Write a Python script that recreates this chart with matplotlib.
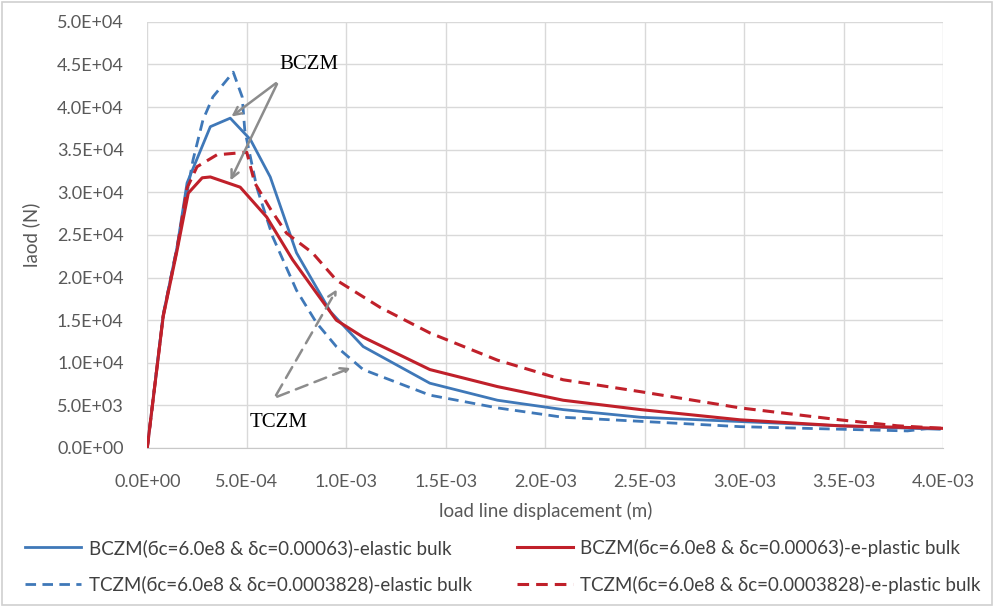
import matplotlib.pyplot as plt
from matplotlib.patches import Rectangle

plt.rcParams["font.family"] = ["Lato", "DejaVu Sans"]

# displacement (m) / load (N)
x_b_el = [0, 8e-5, 1.5e-4, 2.0e-4, 3.17e-4, 4.17e-4, 5.18e-4, 6.18e-4, 7.5e-4, 9.2e-4,
          1.085e-3, 1.42e-3, 1.76e-3, 2.09e-3, 2.48e-3, 2.98e-3, 3.48e-3, 3.98e-3]
y_b_el = [0, 15.6e3, 23.6e3, 31.1e3, 37.7e3, 38.7e3, 36.2e3, 31.8e3, 22.9e3, 16.0e3,
          11.9e3, 7.6e3, 5.6e3, 4.5e3, 3.6e3, 3.1e3, 2.6e3, 2.2e3]

x_b_pl = [0, 8e-5, 1.5e-4, 2.06e-4, 2.76e-4, 3.17e-4, 4.67e-4, 6.0e-4, 7.3e-4, 8.5e-4,
          9.5e-4, 1.085e-3, 1.42e-3, 1.76e-3, 2.09e-3, 2.48e-3, 2.98e-3, 3.48e-3, 4.0e-3]
y_b_pl = [0, 15.4e3, 23.2e3, 29.9e3, 31.7e3, 31.8e3, 30.6e3, 27.1e3, 22.1e3, 18.2e3,
          15.0e3, 13.0e3, 9.2e3, 7.2e3, 5.6e3, 4.5e3, 3.3e3, 2.6e3, 2.3e3]

x_t_el = [0, 8e-5, 1.5e-4, 2.3e-4, 2.8e-4, 3.3e-4, 4.32e-4, 4.77e-4, 4.9e-4, 5.5e-4,
          6.3e-4, 7.5e-4, 8.5e-4, 9.5e-4, 1.085e-3, 1.42e-3, 1.76e-3, 2.09e-3, 2.58e-3,
          2.98e-3, 3.48e-3, 3.82e-3, 3.93e-3]
y_t_el = [0, 15.6e3, 23.6e3, 33.8e3, 38.5e3, 41.2e3, 44.1e3, 41.2e3, 37.3e3, 30.6e3,
          24.8e3, 18.5e3, 14.7e3, 11.9e3, 9.2e3, 6.2e3, 4.7e3, 3.6e3, 3.0e3,
          2.5e3, 2.2e3, 2.0e3, 2.3e3]

x_t_pl = [0, 8e-5, 1.5e-4, 2.0e-4, 2.5e-4, 3.5e-4, 5.0e-4, 5.4e-4, 6.2e-4, 7.0e-4,
          8.3e-4, 9.5e-4, 1.17e-3, 1.42e-3, 1.76e-3, 2.09e-3, 2.48e-3, 2.98e-3, 3.48e-3,
          3.77e-3, 4.0e-3]
y_t_pl = [0, 15.5e3, 23.4e3, 30.5e3, 33.0e3, 34.4e3, 34.7e3, 31.1e3, 28.0e3, 25.2e3,
          22.9e3, 19.7e3, 16.5e3, 13.5e3, 10.3e3, 8.0e3, 6.6e3, 4.7e3, 3.3e3,
          2.6e3, 2.3e3]

labels = [
    "BCZM(бc=6.0e8 & δc=0.00063)-elastic bulk",
    "TCZM(бc=6.0e8 & δc=0.0003828)-elastic bulk",
    "BCZM(бc=6.0e8 & δc=0.00063)-e-plastic bulk",
    "TCZM(бc=6.0e8 & δc=0.0003828)-e-plastic bulk",
]
x_ticks = [0, 5e-4, 1e-3, 1.5e-3, 2e-3, 2.5e-3, 3e-3, 3.5e-3, 4e-3]
y_ticks = [0, 5e3, 1e4, 1.5e4, 2e4, 2.5e4, 3e4, 3.5e4, 4e4, 4.5e4, 5e4]

blue = "#3f78b8"
red = "#c0202a"
grey = "#595959"

fig = plt.figure(figsize=(9.95, 6.07), dpi=100)
ax = fig.add_axes([0.148, 0.262, 0.8, 0.702])

dash = (0, (3.8, 2.3))
l1, = ax.plot(x_b_el, y_b_el, color=blue, lw=2)
l2, = ax.plot(x_t_el, y_t_el, color=blue, lw=2, ls=dash)
l3, = ax.plot(x_b_pl, y_b_pl, color=red, lw=2.2)
l4, = ax.plot(x_t_pl, y_t_pl, color=red, lw=2.2, ls=dash)

ax.set_xlim(0, 4e-3)
ax.set_ylim(0, 5e4)
ax.set_xticks(x_ticks)
ax.set_yticks(y_ticks)
ax.set_xticklabels([f"{v:.1E}" for v in x_ticks])
ax.set_yticklabels([f"{v:.1E}" for v in y_ticks])
ax.tick_params(length=0, labelsize=13, labelcolor=grey)
ax.tick_params(axis="x", pad=19)
ax.tick_params(axis="y", pad=17)
ax.grid(True, color="#d9d9d9", lw=1)
ax.set_axisbelow(True)
for s in ["top", "right", "left"]:
    ax.spines[s].set_visible(False)
ax.spines["bottom"].set_color("#c8c8c8")

ax.set_xlabel("load line displacement (m)", fontsize=13.5, color=grey, labelpad=8)
ax.set_ylabel("laod (N)", fontsize=13.5, color=grey, labelpad=12)

# annotations
arrow_kw = dict(arrowstyle="->", color="#8c8c8c", lw=1.8, mutation_scale=14)
ax.text(8.1e-4, 45.0e3, "BCZM", family="Liberation Serif", fontsize=15,
        ha="center", va="center")
ax.annotate("", xy=(4.12e-4, 38.7e3), xytext=(6.58e-4, 43.0e3), arrowprops=arrow_kw)
ax.annotate("", xy=(4.12e-4, 31.1e3), xytext=(6.58e-4, 43.0e3), arrowprops=arrow_kw)

dash_kw = dict(arrow_kw, ls=(0, (5, 3)))
ax.text(6.6e-4, 3.0e3, "TCZM", family="Liberation Serif", fontsize=15,
        ha="center", va="center")
ax.annotate("", xy=(9.6e-4, 18.9e3), xytext=(6.4e-4, 5.9e3), arrowprops=dash_kw)
ax.annotate("", xy=(1.035e-3, 9.5e3), xytext=(6.4e-4, 5.9e3), arrowprops=dash_kw)

fig.legend([l1, l2, l3, l4], labels, ncol=2, loc="upper left",
           bbox_to_anchor=(0.008, 0.14), frameon=False, fontsize=13.5,
           handlelength=3.0, handletextpad=0.4, labelspacing=1.0,
           columnspacing=2.4, labelcolor="#404040")

fig.patches.append(Rectangle((0.002, 0.003), 0.995, 0.994, transform=fig.transFigure,
                             fill=False, edgecolor="#d0d0d0", lw=1.2))

fig.savefig("out.png", dpi=100)
